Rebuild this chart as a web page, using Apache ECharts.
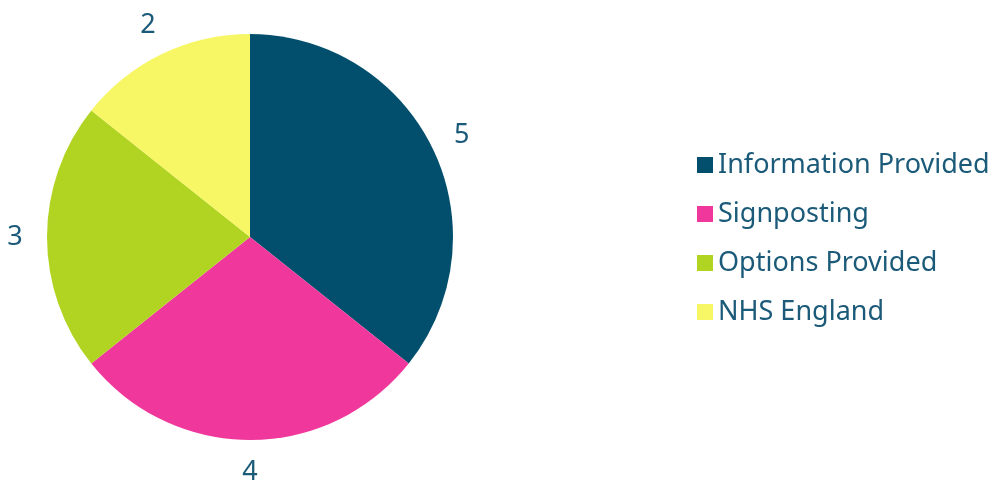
<!DOCTYPE html>
<html><head><meta charset="utf-8">
<script src="https://cdn.jsdelivr.net/npm/echarts@6/dist/echarts.min.js"></script>
<style>html,body{margin:0;padding:0;background:#fff}#c{width:1008px;height:484px}</style>
</head><body><div id="c"></div>
<script>
var categories = ["Information Provided", "Signposting", "Options Provided", "NHS England"];
var values = [5, 4, 3, 2];
var colors = ["#024f6d", "#f0379b", "#b1d423", "#f7f765"];
var textColor = "#1b5a78";
var fontFam = "'Noto Sans', sans-serif";

var data = categories.map(function (c, i) { return { name: c, value: values[i], itemStyle: { color: colors[i] } }; });
var chart = echarts.init(document.getElementById('c'));
chart.setOption({
  animation: false,
  legend: {
    orient: 'vertical', left: 692, top: 146,
    icon: 'rect', itemWidth: 16, itemHeight: 16, itemGap: 21, itemTextGap: 4,
    textStyle: { color: textColor, fontSize: 27, lineHeight: 28, fontFamily: fontFam },
    data: categories
  },
  series: [
    {
      type: 'pie', center: [250, 237], radius: 203, startAngle: 90, clockwise: true,
      label: { show: false }, labelLine: { show: false }, silent: true,
      data: data
    },
    {
      type: 'pie', center: [250, 237], radius: [203, 261], startAngle: 90, clockwise: true,
      itemStyle: { color: 'rgba(0,0,0,0)' }, silent: true,
      label: { show: true, position: 'inside', formatter: '{c}', color: textColor, fontSize: 27, fontFamily: fontFam },
      labelLine: { show: false },
      data: categories.map(function (c, i) { return { name: c, value: values[i], itemStyle: { color: 'rgba(0,0,0,0)' } }; })
    }
  ]
});
</script></body></html>
